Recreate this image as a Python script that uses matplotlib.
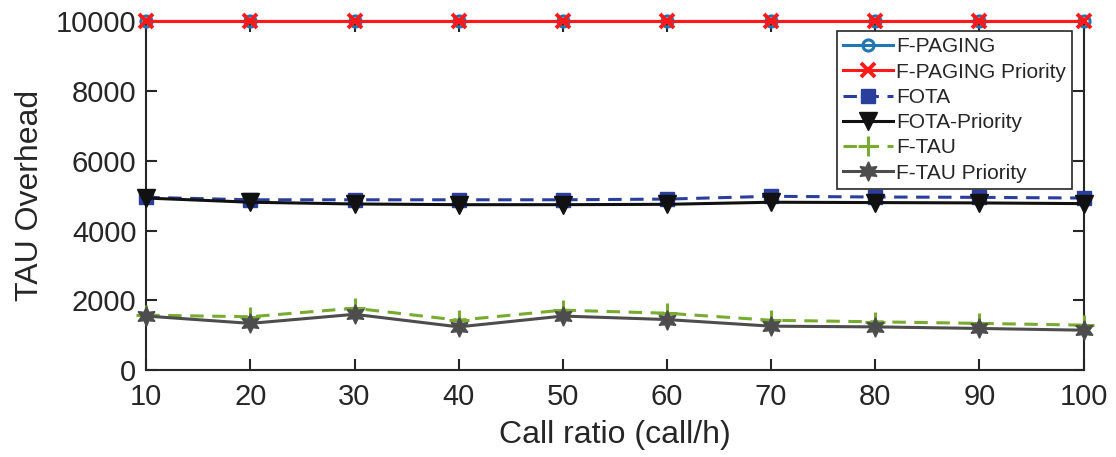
import numpy as np
import matplotlib.pyplot as plt

plt.rcParams['font.family'] = ['Liberation Sans', 'DejaVu Sans']

call_ratio = [10, 20, 30, 40, 50, 60, 70, 80, 90, 100]
f_paging = [10000] * 10
f_paging_prio = [10000] * 10
fota = [4950, 4880, 4880, 4880, 4880, 4900, 4980, 4960, 4950, 4930]
fota_prio = [4930, 4810, 4760, 4740, 4740, 4750, 4810, 4800, 4790, 4770]
f_tau = [1575, 1530, 1775, 1430, 1720, 1630, 1430, 1385, 1340, 1290]
f_tau_prio = [1550, 1340, 1600, 1240, 1550, 1450, 1260, 1240, 1195, 1145]

fig = plt.figure(figsize=(11.16, 4.57), dpi=100)
ax = fig.add_axes([0.131, 0.19, 0.84, 0.764])

hexagram = (6, 1, 0)
dash = (0, (4.4, 2.8))

ax.plot(call_ratio, f_paging, marker='o', ls='-', color='#1f77b4', lw=2.2, ms=8,
        mfc='none', mew=2.2, label='F-PAGING', clip_on=False, zorder=3)
ax.plot(call_ratio, f_paging_prio, marker='x', ls='-', color='#ff1a1a', lw=2.2, ms=10,
        mew=2.8, label='F-PAGING Priority', clip_on=False, zorder=4)
ax.plot(call_ratio, fota, marker='s', ls=dash, color='#2a3f9d', lw=2.2, ms=10,
        label='FOTA', clip_on=False, zorder=3)
ax.plot(call_ratio, fota_prio, marker='v', ls='-', color='#111111', lw=2.2, ms=13,
        label='FOTA-Priority', clip_on=False, zorder=4)
ax.plot(call_ratio, f_tau, marker='+', ls=dash, color='#77ac30', lw=2.2, ms=15,
        mew=2.2, label='F-TAU', clip_on=False, zorder=3)
ax.plot(call_ratio, f_tau_prio, marker=hexagram, ls='-', color='#4d4d4d', lw=2.2, ms=14,
        label='F-TAU Priority', clip_on=False, zorder=4)

ax.set_xlim(10, 100)
ax.set_ylim(0, 10000)
ax.set_xticks(call_ratio)
ax.set_yticks([0, 2000, 4000, 6000, 8000, 10000])

for s in ax.spines.values():
    s.set_color('#262626')
    s.set_linewidth(1.5)
ax.tick_params(direction='in', length=8, width=1.5, colors='#262626',
               labelsize=21, top=True, right=True, pad=9)
ax.tick_params(axis='y', pad=7)

ax.set_xlabel('Call ratio (call/h)', fontsize=23, color='#262626', labelpad=7)
ax.set_ylabel('TAU Overhead', fontsize=23, color='#262626', labelpad=8)

leg = ax.legend(loc='upper right', bbox_to_anchor=(0.988, 0.971), borderaxespad=0,
                fontsize=15, numpoints=1, handlelength=2.4, handletextpad=0.15,
                labelspacing=0.3, borderpad=0.3, fancybox=False,
                framealpha=1, edgecolor='#262626')
leg.get_frame().set_linewidth(1.2)
for t in leg.get_texts():
    t.set_color('#262626')

fig.savefig('out.png', dpi=100)
